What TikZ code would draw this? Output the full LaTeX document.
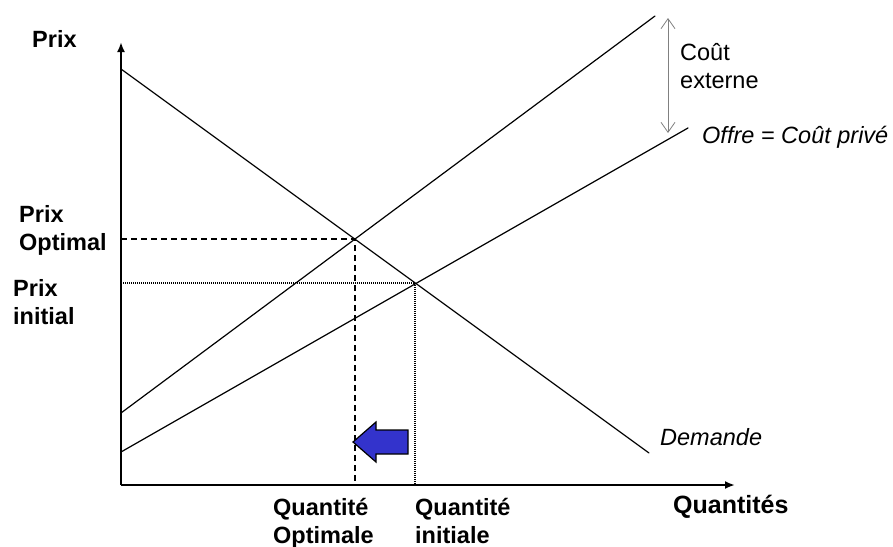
\documentclass[tikz,border=0pt]{standalone}
\usepackage{fontspec}
\setmainfont{Liberation Sans}
\usetikzlibrary{arrows.meta}
\definecolor{arrowblue}{RGB}{51,51,204}
\definecolor{extgray}{RGB}{128,128,128}
\begin{document}
\begin{tikzpicture}[x=1pt,y=-1pt,
  curve/.style={line width=1.2pt,line cap=round},
  axisline/.style={line width=2pt,-{Latex[length=10pt,width=8pt]}},
  blbl/.style={font=\fontsize{23.5}{28}\selectfont\bfseries,align=left,anchor=base west,inner sep=0pt},
  rlbl/.style={font=\fontsize{23.5}{28}\selectfont,align=left,anchor=base west,inner sep=0pt},
  ilbl/.style={font=\fontsize{23.5}{28}\selectfont\itshape,anchor=base west,inner sep=0pt},
  guidedash/.style={line width=1.2pt,dash pattern=on 6pt off 4pt},
  guidedot/.style={line width=1.2pt,dash pattern=on 1pt off 1pt},
  shiftarrow/.style={fill=arrowblue,draw=black,line width=1.2pt,line join=miter}]
\useasboundingbox (0,0) rectangle (893,546);
% axes
\coordinate (O) at (121,485);
\coordinate (ytop) at (121,42);
\coordinate (xend) at (735,485);
\draw[axisline] (O) -- (ytop);
\draw[axisline] (O) -- (xend);
% curves
\coordinate (D0) at (121,69);  \coordinate (D1) at (649,453);
\coordinate (S0) at (121,452); \coordinate (S1) at (688,128);
\coordinate (C0) at (121,413); \coordinate (C1) at (655,16);
\draw[curve] (D0) -- (D1);
\draw[curve] (S0) -- (S1);
\draw[curve] (C0) -- (C1);
% equilibria
\coordinate (Eopt) at (355,239);
\coordinate (Eini) at (415,283);
\draw[guidedash] (Eopt -| O) -- (Eopt) -- (Eopt |- O);
\draw[guidedot] (Eini -| O) -- (Eini) -- (Eini |- O);
% external cost arrow
\coordinate (Ea) at (668,18);
\coordinate (Eb) at (668,133);
\draw[extgray,line width=0.8pt,{Straight Barb[length=10pt,width=14pt]}-{Straight Barb[length=10pt,width=14pt]}] (Ea) -- (Eb);
% blue shift arrow
\draw[shiftarrow] (353,442) -- (376,422) -- (376,430) -- (408,430) -- (408,454) -- (376,454) -- (376,462) -- cycle;
% labels
\node[blbl] (prix) at (32,47) {Prix};
\node[blbl] (popt) at (19,250) {Prix\\Optimal};
\node[blbl] (pini) at (13,324) {Prix\\initial};
\node[blbl] (qopt) at (273,543) {Quantité\\Optimale};
\node[blbl] (qini) at (415,543) {Quantité\\initiale};
\node[blbl,font=\fontsize{25}{29}\selectfont\bfseries] (qs) at (673,513) {Quantités};
\node[rlbl] (cext) at (680,88) {Coût\\externe};
\node[ilbl] (offre) at (702,143) {Offre = Coût privé};
\node[ilbl] (dem) at (660,445) {Demande};
\end{tikzpicture}
\end{document}
